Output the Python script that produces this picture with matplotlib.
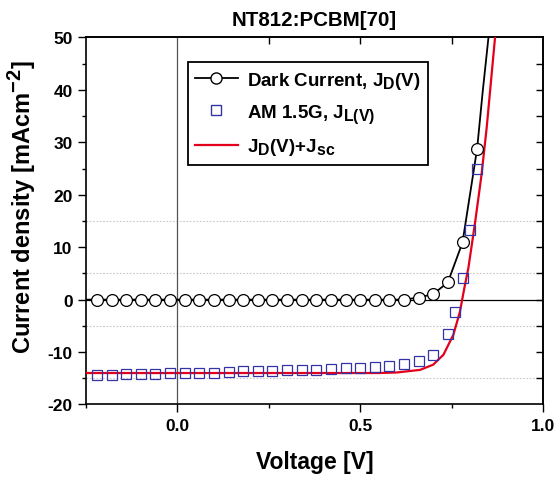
import matplotlib
matplotlib.use("Agg")
import matplotlib.pyplot as plt
from matplotlib.ticker import MultipleLocator
try:
    import matplotlib._mathtext as _mt
    _mt.SHRINK_FACTOR = 0.85
except Exception:
    pass

plt.rcParams['font.family'] = ['Liberation Sans', 'DejaVu Sans']
plt.rcParams['font.weight'] = 'bold'
plt.rcParams['mathtext.fontset'] = 'custom'
plt.rcParams['mathtext.rm'] = 'Liberation Sans:bold'
plt.rcParams['mathtext.bf'] = 'Liberation Sans:bold'
plt.rcParams['mathtext.it'] = 'Liberation Sans:bold'
plt.rcParams['mathtext.default'] = 'bf'
plt.rcParams['axes.unicode_minus'] = False

# ---- data ----
v_dark = [-0.22, -0.18, -0.14, -0.10, -0.06, -0.02, 0.02, 0.06, 0.10, 0.14, 0.18,
          0.22, 0.26, 0.30, 0.34, 0.38, 0.42, 0.46, 0.50, 0.54, 0.58, 0.62,
          0.66, 0.70, 0.74, 0.78, 0.82]
j_dark = [0, 0, 0, 0, 0, 0, 0, 0, 0, 0, 0,
          0, 0, 0, 0, 0, 0, 0, 0, 0, 0, 0,
          0.4, 1.05, 3.3, 10.9, 28.8]

v_dark_line = [-0.25, 0.62, 0.66, 0.70, 0.74, 0.78, 0.82, 0.835, 0.851, 0.86]
j_dark_line = [0, 0, 0.4, 1.05, 3.3, 10.9, 28.8, 39.5, 50, 56]

v_light = [-0.22, -0.18, -0.14, -0.10, -0.06, -0.02, 0.02, 0.06, 0.10, 0.14, 0.18,
           0.22, 0.26, 0.30, 0.34, 0.38, 0.42, 0.46, 0.50, 0.54, 0.58, 0.62,
           0.66, 0.70, 0.74, 0.76, 0.78, 0.80, 0.82]
j_light = [-14.4, -14.4, -14.2, -14.2, -14.1, -14.0, -14.0, -13.9, -13.9, -13.8, -13.7,
           -13.7, -13.6, -13.5, -13.5, -13.4, -13.2, -13.1, -13.0, -12.8, -12.6, -12.25,
           -11.7, -10.6, -6.6, -2.4, 4.1, 13.3, 25.0]

v_sum = [-0.25, 0.55, 0.60, 0.664, 0.70, 0.728, 0.755, 0.773, 0.785, 0.796,
         0.815, 0.832, 0.846, 0.869, 0.875]
j_sum = [-14.0, -14.0, -13.9, -13.4, -12.4, -10.5, -6.7, -2.3, 2.2, 6.0,
         15.0, 23.8, 32.7, 50.0, 54.0]

grid_y = [-15, -5, 5, 15]
x_ticks = [0.0, 0.5, 1.0]
x_ticklabels = ['0.0', '0.5', '1.0']
y_ticks = [-20, -10, 0, 10, 20, 30, 40, 50]

fig = plt.figure(figsize=(5.58, 4.81), dpi=100)
ax = fig.add_axes([0.154, 0.157, 0.819, 0.763])

for gy in grid_y:
    ax.axhline(gy, color='#c8c8c8', lw=0.8, ls=(0, (1.5, 1.5)), zorder=0)
ax.axhline(0, color='black', lw=0.9, zorder=1)
ax.axvline(0, color='#555555', lw=0.9, zorder=1)

ax.plot(v_dark_line, j_dark_line, color='black', lw=1.3, zorder=3)
ax.plot(v_dark, j_dark, ls='none', marker='o', ms=8.5, mfc='white', mec='black',
        mew=0.9, zorder=4)
ax.plot(v_light, j_light, ls='none', marker='s', ms=7.3, mfc='none', mec='#3333a6',
        mew=0.9, zorder=4)
ax.plot(v_sum, j_sum, color='#e3001b', lw=1.6, zorder=3)

# legend handles
h1, = ax.plot([], [], color='black', lw=1.3, marker='o', ms=8, mfc='white', mec='black')
h2, = ax.plot([], [], ls='none', marker='s', ms=7, mfc='none', mec='#3333a6')
h3, = ax.plot([], [], color='#e3001b', lw=1.6)
leg = ax.legend([h1, h2, h3],
                [r'Dark Current, J$_{D}$(V)', r'AM 1.5G, J$_{L(V)}$', r'J$_{D}$(V)+J$_{sc}$'],
                loc='upper left', bbox_to_anchor=(0.223, 0.933), fontsize=13.5,
                frameon=True, fancybox=False, edgecolor='black', framealpha=1,
                handlelength=2.25, handletextpad=0.5, borderpad=0.4, labelspacing=0.62,
                borderaxespad=0)
leg.get_frame().set_linewidth(1.3)

ax.set_xlim(-0.25, 1.0)
ax.set_ylim(-20, 50)
ax.set_xticks(x_ticks)
ax.set_xticklabels(x_ticklabels)
ax.xaxis.set_minor_locator(MultipleLocator(0.25))
ax.set_yticks(y_ticks)
ax.yaxis.set_minor_locator(MultipleLocator(5))
ax.tick_params(which='major', direction='out', length=6, width=1.0, labelsize=12.5)
ax.tick_params(which='minor', direction='out', length=3, width=1.0)
for s in ax.spines.values():
    s.set_linewidth(1.2)

secx = ax.secondary_xaxis('top')
secx.set_xticks([0.25, 0.5, 0.75])
secx.tick_params(direction='in', length=5, width=1.0, labeltop=False)
secx.spines['top'].set_linewidth(1.2)
secy = ax.secondary_yaxis('right')
secy.set_yticks(list(range(-15, 50, 5)))
secy.tick_params(direction='in', length=5, width=1.0, labelright=False)
secy.spines['right'].set_linewidth(1.2)

ax.set_xlabel('Voltage [V]', fontsize=16.5, fontweight='bold')
ax.xaxis.set_label_coords(0.5, -0.124)
ax.set_ylabel(r'Current density [mAcm$^{-2}$]', fontsize=17, fontweight='bold')
ax.yaxis.set_label_coords(-0.105, 0.541)
ax.set_title('NT812:PCBM[70]', fontsize=14.8, fontweight='bold', pad=9)

fig.savefig('out.png', dpi=100)
